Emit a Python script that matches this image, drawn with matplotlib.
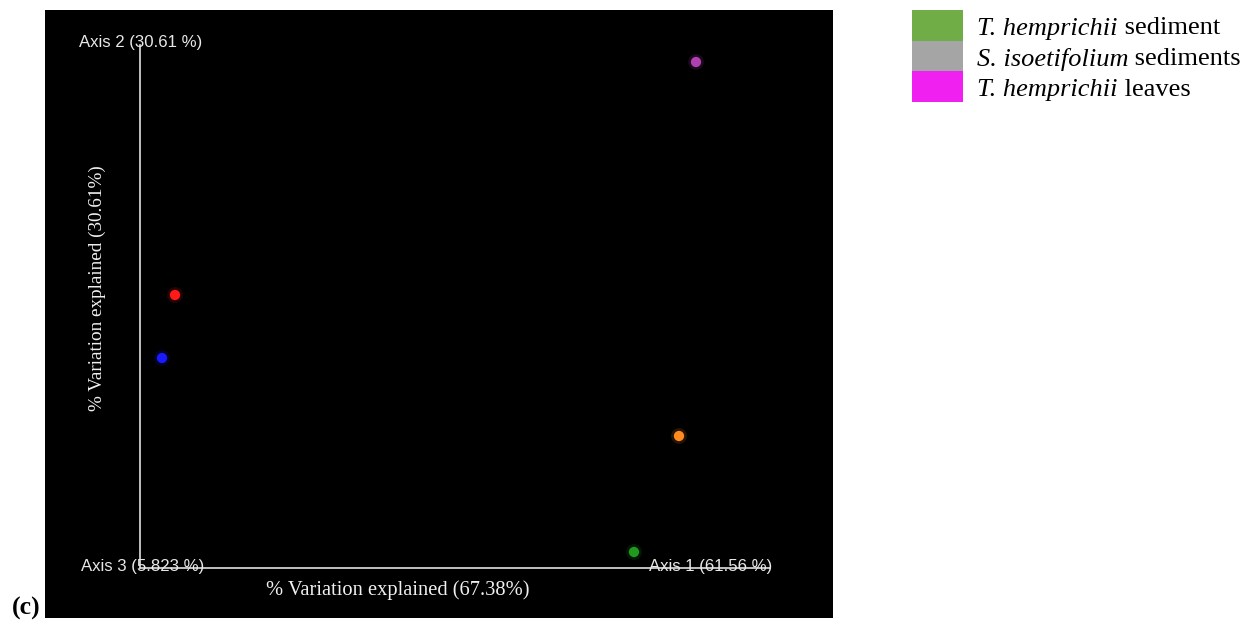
import matplotlib
matplotlib.use("Agg")
import matplotlib.pyplot as plt
from matplotlib.patches import Rectangle

# Data (PCoA positions, arbitrary units)
point_x = [556, 35, 22, 539, 494]
point_y = [506, 273, 210, 132, 16]
point_colors = ["#b040b0", "#ff1a1a", "#1a1aff", "#ff8a20", "#1f9a1f"]

axis_labels = ["Axis 1 (61.56 %)", "Axis 2 (30.61 %)", "Axis 3 (5.823 %)"]
xlabel = "% Variation explained (67.38%)"
ylabel = "% Variation explained (30.61%)"

legend_labels = [("T. hemprichii", " sediment"),
                 ("S. isoetifolium", " sediments"),
                 ("T. hemprichii", " leaves")]
legend_colors = ["#70ad47", "#a5a5a5", "#f020f0"]

W, H = 1256, 623
fig = plt.figure(figsize=(W / 100, H / 100), dpi=100)
fig.patch.set_facecolor("white")

# black panel: x 45..833, y 10..618 (pixels from top)
ax = fig.add_axes([45 / W, 1 - 618 / H, (833 - 45) / W, (618 - 10) / H])
ax.set_facecolor("black")
ax.set_xlim(-95, 693)
ax.set_ylim(-50, 558)
for s in ax.spines.values():
    s.set_visible(False)
ax.set_xticks([])
ax.set_yticks([])

# axis lines
ax.plot([0, 0], [0, 523], color="#e0e0e0", lw=1.2, zorder=2)
ax.plot([0, 630], [0, 0], color="#e0e0e0", lw=1.2, zorder=2)

# points with soft glow
for x, y, c in zip(point_x, point_y, point_colors):
    ax.scatter([x], [y], s=130, color=c, alpha=0.15, edgecolors="none", zorder=3)
    ax.scatter([x], [y], s=55, color=c, edgecolors="none", zorder=4)

sans = "Liberation Sans"
fs_axis = 12.1
ax.text(0.5, 526, axis_labels[1], color="#e8e8e8", fontsize=fs_axis, family=sans,
        ha="center", va="center", zorder=5)
ax.text(2.5, 1, axis_labels[2], color="#e8e8e8", fontsize=fs_axis, family=sans,
        ha="center", va="center", zorder=5)
ax.text(571, 1, axis_labels[0], color="#e8e8e8", fontsize=fs_axis, family=sans,
        ha="center", va="center", zorder=5)

serif = "Liberation Serif"
ax.text(258, -22, xlabel, color="#f0f0f0", fontsize=14.8, family=serif,
        ha="center", va="center")
ax.text(-43, 280, ylabel, color="#f0f0f0", fontsize=13.8, family=serif,
        ha="center", va="center", rotation=90)

fig.text(26 / W, 1 - 608 / H, "(c)", fontsize=18.5, family=serif,
         fontweight="bold", ha="center", va="center")

# legend
top = 10
fig.canvas.draw()
r = fig.canvas.get_renderer()
for i, ((it, rest), col) in enumerate(zip(legend_labels, legend_colors)):
    y0 = top + i * 30.7
    fig.patches.append(Rectangle((912 / W, 1 - (y0 + 30.7) / H), 51 / W, 30.7 / H,
                                 transform=fig.transFigure, facecolor=col,
                                 edgecolor="none"))
    t = fig.text(977 / W, 1 - (y0 + 18.5) / H, it, fontsize=19, family=serif,
                 style="italic", ha="left", va="center")
    bb = t.get_window_extent(renderer=r)
    fig.text(bb.x1 / W, 1 - (y0 + 18.5) / H, rest, fontsize=19, family=serif,
             ha="left", va="center")

fig.savefig("out.png", dpi=100, facecolor="white")
